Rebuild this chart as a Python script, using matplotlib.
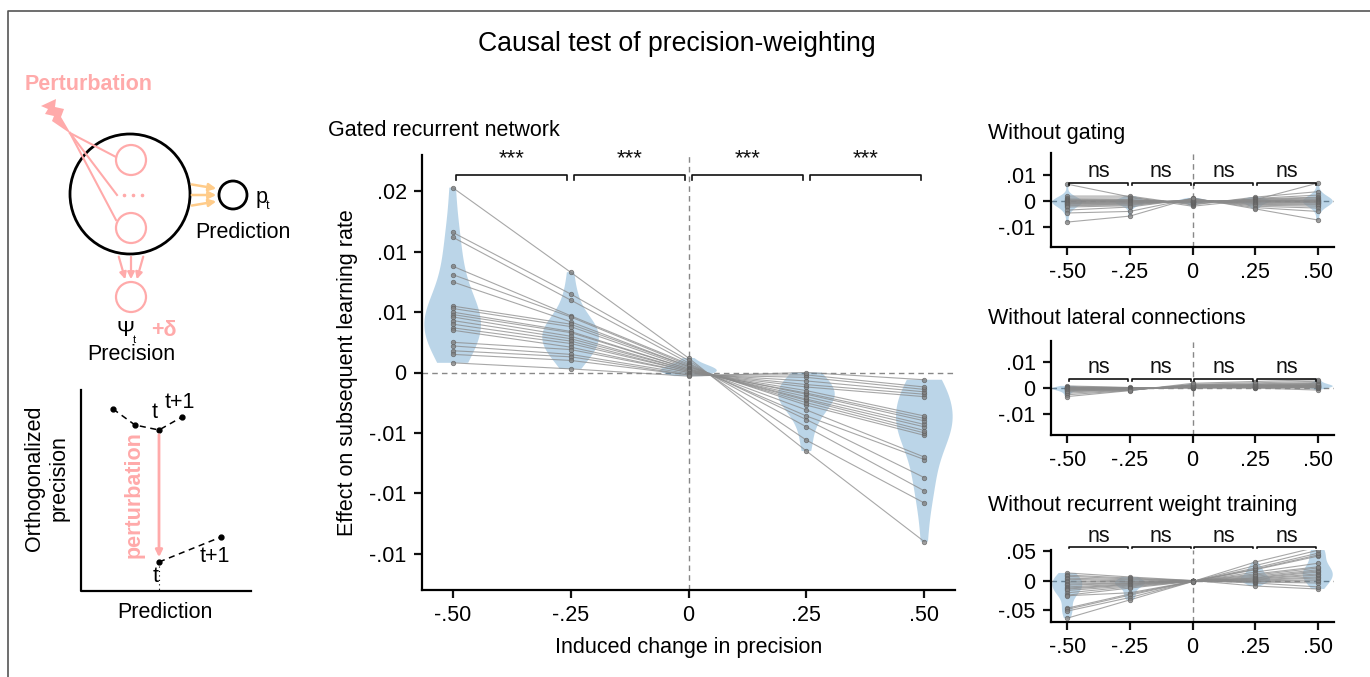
import numpy as np
import matplotlib
matplotlib.use("Agg")
import matplotlib.pyplot as plt
from matplotlib.patches import Circle, Polygon

plt.rcParams['font.family'] = ['Liberation Sans', 'DejaVu Sans']

W, H = 1370, 677
fig = plt.figure(figsize=(W / 100, H / 100), dpi=100)

# ---------------- data ----------------
conditions = [-0.5, -0.25, 0.0, 0.25, 0.5]
xtick_labels = ["-.50", "-.25", "0", ".25", ".50"]

# Gated recurrent network (20 networks)
gru_m50 = [0.0153, 0.0116, 0.0112, 0.0088, 0.0081, 0.0075, 0.0055, 0.0053, 0.0050, 0.0048,
           0.0046, 0.0043, 0.0040, 0.0037, 0.0035, 0.0025, 0.0022, 0.0018, 0.0015, 0.0008]
gru_m25 = [0.0083, 0.0065, 0.0060, 0.0047, 0.0046, 0.0042, 0.0040, 0.0038, 0.0034, 0.0033,
           0.0030, 0.0028, 0.0026, 0.0024, 0.0021, 0.0019, 0.0015, 0.0013, 0.0010, 0.0003]
gru_0 = [0.0012, 0.0010, 0.0008, 0.0007, 0.0006, 0.0005, 0.0005, 0.0004, 0.0003, 0.0003,
         0.0002, 0.0002, 0.0001, 0.0001, 0.0000, 0.0000, -0.0001, -0.0002, -0.0002, -0.0003]
gru_p25 = [-0.0065, -0.0056, -0.0045, -0.0039, -0.0036, -0.0031, -0.0027, -0.0025, -0.0023, -0.0022,
           -0.0020, -0.0018, -0.0017, -0.0015, -0.0012, -0.0010, -0.0007, -0.0004, -0.0002, 0.0000]
gru_p50 = [-0.0140, -0.0108, -0.0098, -0.0087, -0.0072, -0.0070, -0.0052, -0.0050, -0.0048, -0.0045,
           -0.0043, -0.0040, -0.0038, -0.0036, -0.0020, -0.0018, -0.0016, -0.0014, -0.0012, -0.0006]
gru_yticks = [0.015, 0.01, 0.005, 0.0, -0.005, -0.01, -0.015]
gru_ytick_labels = [".02", ".01", ".01", "0", "-.01", "-.01", "-.01"]
gru_sig = ["***", "***", "***", "***"]

# Without gating
ng_m50 = [0.0065, 0.0019, 0.0012, 0.0008, 0.0005, 0.0003, 0.0002, 0.0000, -0.0002, -0.0004,
          -0.0006, -0.0008, -0.0010, -0.0012, -0.0015, -0.0018, -0.0023, -0.0035, -0.0046, -0.0081]
ng_m25 = [0.0016, 0.0019, 0.0012, 0.0006, 0.0004, 0.0002, 0.0001, -0.0001, -0.0002, -0.0003,
          -0.0004, -0.0006, -0.0008, -0.0010, -0.0012, -0.0015, -0.0018, -0.0023, -0.0040, -0.0058]
ng_0 = [-0.0020, -0.0015, -0.0012, -0.0008, -0.0006, -0.0004, -0.0003, -0.0002, -0.0001, 0.0000,
        0.0000, 0.0001, 0.0002, 0.0003, 0.0004, 0.0005, 0.0006, 0.0008, 0.0010, 0.0012]
ng_p25 = [0.0005, 0.0015, 0.0010, 0.0008, 0.0006, 0.0004, 0.0002, 0.0001, 0.0000, -0.0001,
          -0.0002, -0.0004, -0.0006, -0.0008, -0.0010, -0.0013, -0.0016, -0.0020, -0.0025, -0.0030]
ng_p50 = [0.0069, 0.0036, 0.0023, 0.0015, 0.0012, 0.0008, 0.0005, 0.0003, 0.0001, 0.0000,
          -0.0002, -0.0004, -0.0006, -0.0008, -0.0012, -0.0015, -0.0020, -0.0027, -0.0040, -0.0073]

# Without lateral connections
nl_m50 = [0.0008, 0.0005, 0.0003, 0.0002, 0.0001, 0.0000, 0.0000, -0.0001, -0.0002, -0.0003,
          -0.0004, -0.0005, -0.0006, -0.0008, -0.0010, -0.0012, -0.0015, -0.0020, -0.0026, -0.0033]
nl_m25 = [0.0002, 0.0001, 0.0000, 0.0000, -0.0001, -0.0001, -0.0002, -0.0002, -0.0003, -0.0003,
          -0.0004, -0.0004, -0.0005, -0.0005, -0.0006, -0.0006, -0.0007, -0.0008, -0.0009, -0.0010]
nl_0 = [0.0000, 0.0001, 0.0001, 0.0002, 0.0002, 0.0003, 0.0003, 0.0004, 0.0004, 0.0005,
        0.0005, 0.0006, 0.0007, 0.0008, 0.0009, 0.0010, 0.0011, 0.0012, 0.0014, 0.0018]
nl_p25 = [0.0000, 0.0001, 0.0002, 0.0002, 0.0003, 0.0004, 0.0004, 0.0005, 0.0006, 0.0006,
          0.0007, 0.0008, 0.0009, 0.0010, 0.0011, 0.0012, 0.0014, 0.0016, 0.0020, 0.0025]
nl_p50 = [-0.0008, 0.0000, 0.0001, 0.0002, 0.0003, 0.0004, 0.0005, 0.0006, 0.0007, 0.0008,
          0.0009, 0.0010, 0.0011, 0.0012, 0.0014, 0.0016, 0.0018, 0.0021, 0.0026, 0.0032]

# Without recurrent weight training
nr_m50 = [0.0136, 0.0100, 0.0080, 0.0050, 0.0030, 0.0000, -0.0020, -0.0050, -0.0070, -0.0100,
          -0.0120, -0.0136, -0.0160, -0.0200, -0.0240, -0.0250, -0.0460, -0.0480, -0.0510, -0.0630]
nr_m25 = [0.0068, 0.0050, 0.0034, 0.0020, 0.0000, -0.0010, -0.0020, -0.0034, -0.0040, -0.0050,
          -0.0060, -0.0070, -0.0085, -0.0100, -0.0120, -0.0200, -0.0220, -0.0240, -0.0280, -0.0320]
nr_0 = [0.0008, 0.0006, 0.0005, 0.0004, 0.0003, 0.0002, 0.0001, 0.0000, 0.0000, -0.0001,
        -0.0001, -0.0002, -0.0003, -0.0004, -0.0005, -0.0006, -0.0007, -0.0008, -0.0009, -0.0010]
nr_p25 = [-0.0085, -0.0034, -0.0017, -0.0010, 0.0000, 0.0010, 0.0020, 0.0030, 0.0040, 0.0050,
          0.0060, 0.0080, 0.0100, 0.0120, 0.0150, 0.0190, 0.0200, 0.0220, 0.0260, 0.0320]
nr_p50 = [-0.0136, -0.0100, -0.0034, 0.0000, 0.0020, 0.0050, 0.0070, 0.0100, 0.0120, 0.0150,
          0.0170, 0.0190, 0.0220, 0.0240, 0.0300, 0.0420, 0.0440, 0.0470, 0.0520, 0.0576]

small_sig = ["ns", "ns", "ns", "ns"]

# ---------------- styles ----------------
PINK = '#ffaaaa'
ORANGE = '#ffcc8a'
VIOLIN = '#1f77b4'
FS = 15.5


def px_axes(x0, y0, x1, y1):
    return fig.add_axes([x0 / W, 1 - y1 / H, (x1 - x0) / W, (y1 - y0) / H])


def fig_text(x, y, s, **kw):
    fig.text(x / W, 1 - y / H, s, **kw)


def style_axes(ax):
    for s in ['top', 'right']:
        ax.spines[s].set_visible(False)
    for s in ['left', 'bottom']:
        ax.spines[s].set_linewidth(1.6)
    ax.tick_params(width=1.6, length=6, labelsize=FS, pad=5, color='#111')


def draw_panel(ax, cols, ylim, yticks, ylabels, sig, brk_y, brk_drop, txt_y, sig_fs, vw=0.12):
    ax.set_xlim(-0.565, 0.565)
    ax.set_ylim(*ylim)
    ax.axhline(0, color='#888888', lw=1.0, ls=(0, (4, 3)), zorder=1)
    ax.axvline(0, color='#888888', lw=1.0, ls=(0, (4, 3)), zorder=1)
    vp = ax.violinplot(cols, positions=conditions, widths=vw, showextrema=False)
    for b in vp['bodies']:
        b.set_facecolor(VIOLIN)
        b.set_edgecolor('none')
        b.set_alpha(0.3)
        b.set_zorder(2)
    arr = np.array(cols).T
    for row in arr:
        ax.plot(conditions, row, color='#8a8a8a', lw=0.8, alpha=0.75, zorder=3,
                marker='o', ms=3.2, mfc='#808080', mec='#606060', mew=0.6)
    ax.set_xticks(conditions)
    ax.set_xticklabels(xtick_labels)
    ax.set_yticks(yticks)
    ax.set_yticklabels(ylabels)
    style_axes(ax)
    gap = 0.007
    for i, lab in enumerate(sig):
        xa, xb = conditions[i] + gap, conditions[i + 1] - gap
        ax.plot([xa, xa, xb, xb], [brk_y - brk_drop, brk_y, brk_y, brk_y - brk_drop],
                color='#111111', lw=1.2, clip_on=False, zorder=4)
        ax.text((xa + xb) / 2, txt_y, lab, ha='center', va='center', fontsize=sig_fs,
                color='#111111', clip_on=False)


# ---------------- schematic overlay ----------------
axs = fig.add_axes([0, 0, 1, 1])
axs.set_xlim(0, W)
axs.set_ylim(H, 0)
axs.axis('off')

# figure frame
axs.plot([8, 8, W], [H, 11, 11], color='#555555', lw=1.2, clip_on=False)

# top schematic
axs.text(89, 84, "Perturbation", color=PINK, fontsize=FS, fontweight='bold', ha='center', va='center')
bolt = Polygon([(41, 106), (56, 99), (55, 107), (64, 109), (61, 117), (71, 134),
                (52, 121), (54, 116), (45, 114), (48, 109)], closed=True, color=PINK, lw=0)
axs.add_patch(bolt)
for (ex, ey) in [(116, 157), (117, 195), (116, 220)]:
    axs.plot([70, ex], [133, ey], color=PINK, lw=1.5)
axs.add_patch(Circle((130, 194), 60, fill=False, ec='black', lw=2))
axs.add_patch(Circle((131, 160), 15, fill=False, ec=PINK, lw=1.6))
axs.add_patch(Circle((131, 228), 15, fill=False, ec=PINK, lw=1.6))
axs.plot([124, 133, 142], [195, 195, 195], ls='none', marker='o', ms=1.6, color=PINK)
for (sy, ey) in [(184, 189), (195, 195), (206, 201)]:
    axs.annotate("", xy=(219, ey), xytext=(189, sy),
                 arrowprops=dict(arrowstyle='-|>', color=ORANGE, lw=1.8, mutation_scale=11))
axs.add_patch(Circle((233, 195), 14, fill=False, ec='black', lw=2))
axs.text(256, 198, "p", fontsize=FS, ha='left', va='center')
axs.text(266, 206, "t", fontsize=9, ha='left', va='center')
axs.text(243, 233, "Prediction", fontsize=FS, ha='center', va='center')
for (sx, ex) in [(118, 126), (131, 131), (144, 136)]:
    axs.annotate("", xy=(ex, 282), xytext=(sx, 254),
                 arrowprops=dict(arrowstyle='-|>', color=PINK, lw=1.6, mutation_scale=10))
axs.add_patch(Circle((131, 297), 15, fill=False, ec=PINK, lw=1.6))
axs.text(125, 330, "Ψ", fontsize=FS, ha='center', va='center')
axs.text(134, 340, "t", fontsize=8, ha='center', va='center')
axs.text(164, 331, "+δ", fontsize=FS, ha='center', va='center', color=PINK, fontweight='bold')
axs.text(131, 355, "Precision", fontsize=FS, ha='center', va='center')

# bottom schematic
axs.plot([81, 81, 251], [390, 591, 591], color='black', lw=1.6)
px1 = [113, 135, 159, 182]
py1 = [409, 425, 430, 417]
axs.plot(px1, py1, color='black', lw=1.1, ls=(0, (4, 3)), marker='o', ms=3.5)
axs.text(155, 413, "t", fontsize=FS, ha='center', va='center')
axs.text(180, 402, "t+1", fontsize=FS, ha='center', va='center')
axs.annotate("", xy=(159, 560), xytext=(159, 432),
             arrowprops=dict(arrowstyle='-|>', color=PINK, lw=2, mutation_scale=10))
axs.plot([159, 221], [562, 537], color='black', lw=1.1, ls=(0, (4, 3)), marker='o', ms=3.5)
axs.plot([159, 159], [566, 591], color='black', lw=0.8, ls=(0, (1, 3)))
axs.text(215, 556, "t+1", fontsize=FS, ha='center', va='center')
axs.text(156, 577, "t", fontsize=FS, ha='center', va='center')
axs.text(134, 495, "perturbation", fontsize=FS, ha='center', va='center', rotation=90,
         color=PINK, fontweight='bold')
axs.text(35, 478, "Orthogonalized", fontsize=FS, ha='center', va='center', rotation=90)
axs.text(59, 478, "precision", fontsize=FS, ha='center', va='center', rotation=90)
axs.text(165, 612, "Prediction", fontsize=FS, ha='center', va='center')

# ---------------- titles ----------------
fig_text(677, 44, "Causal test of precision-weighting", fontsize=19.2, ha='center', va='center')
fig_text(328, 130, "Gated recurrent network", fontsize=FS, ha='left', va='center')
fig_text(988, 133, "Without gating", fontsize=FS, ha='left', va='center')
fig_text(988, 318, "Without lateral connections", fontsize=FS, ha='left', va='center')
fig_text(988, 505, "Without recurrent weight training", fontsize=FS, ha='left', va='center')

# ---------------- main panel ----------------
ax = px_axes(422, 155, 955, 590)
draw_panel(ax, [gru_m50, gru_m25, gru_0, gru_p25, gru_p50], (-0.018, 0.018),
           gru_yticks, gru_ytick_labels, gru_sig, 0.01636, 0.0004, 0.0177, 16)
ax.set_xlabel("Induced change in precision", fontsize=FS, labelpad=8)
ax.set_ylabel("Effect on subsequent learning rate", fontsize=FS, labelpad=8)

# ---------------- right panels ----------------
a1 = px_axes(1051, 153, 1334, 247)
draw_panel(a1, [ng_m50, ng_m25, ng_0, ng_p25, ng_p50], (-0.0177, 0.0185),
           [0.01, 0.0, -0.01], [".01", "0", "-.01"], small_sig, 0.0069, 0.0008, 0.0112, FS)

a2 = px_axes(1051, 341, 1334, 435)
draw_panel(a2, [nl_m50, nl_m25, nl_0, nl_p25, nl_p50], (-0.0181, 0.0181),
           [0.01, 0.0, -0.01], [".01", "0", "-.01"], small_sig, 0.0035, 0.0008, 0.0079, FS)

a3 = px_axes(1051, 550, 1334, 622)
draw_panel(a3, [nr_m50, nr_m25, nr_0, nr_p25, nr_p50], (-0.0695, 0.0525),
           [0.05, 0.0, -0.05], [".05", "0", "-.05"], small_sig, 0.0576, 0.002, 0.0750, FS)

fig.savefig("out.png", dpi=100)
